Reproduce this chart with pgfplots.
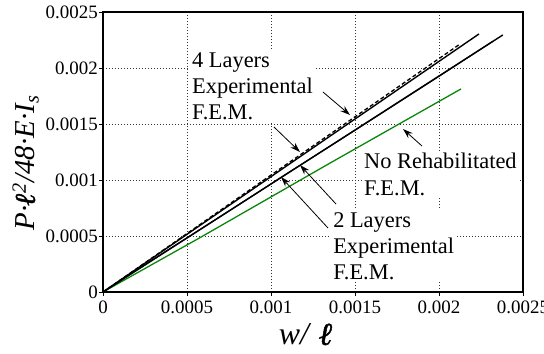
\documentclass[border=0pt]{standalone}
\usepackage{fontspec}
\setmainfont{Liberation Serif}
\newfontfamily\ellfont[FakeBold=1.5]{Liberation Serif}
\usepackage{pgfplots}
\pgfplotsset{compat=1.18}
\usetikzlibrary{arrows.meta}
\definecolor{fgreen}{RGB}{10,135,10}
\newcommand{\ellb}{{\ellfont\bfseries\itshape ℓ}}
\begin{document}
\begin{tikzpicture}
\begin{axis}[
  at={(0,0)}, anchor=south west,
  scale only axis, width=420bp, height=280bp,
  xmin=0, xmax=0.0025, ymin=0, ymax=0.0025,
  xtick={0,0.0005,0.001,0.0015,0.002,0.0025},
  ytick={0,0.0005,0.001,0.0015,0.002,0.0025},
  scaled ticks=false,
  /pgf/number format/fixed,
  /pgf/number format/precision=4,
  /pgf/number format/assume math mode=true,
  ticklabel style={font=\fontsize{19}{21}\selectfont},
  yticklabel style={inner sep=1bp},
  xticklabel style={inner sep=5bp},
  tick pos=left,
  tick align=outside,
  major tick length=4bp,
  every tick/.style={black, line width=0.8bp},
  grid=major,
  major grid style={black!80, line width=0.6bp, dash pattern=on 1bp off 2bp},
  axis line style={line width=1.6bp},
  xlabel={\fontsize{32}{34}\selectfont\textit{w/} \ellb},
  xlabel style={at={(axis description cs:0.483,-0.189)}, anchor=base},
  ylabel={\fontsize{29}{31}\selectfont\textit{P·\ellb\textsuperscript{2}/48·E·I\textsubscript{s}}},
  ylabel style={at={(axis description cs:-0.162,0.461)}, anchor=base},
]
% No rehabilitated (F.E.M.)
\addplot[fgreen, line width=1.3bp] coordinates {(0,0) (0.000577,0.000485) (0.00135,0.001150) (0.002131,0.001813)};
% 2 Layers F.E.M.
\addplot[black, line width=1.4bp] coordinates {(0,0) (0.0012,0.001157) (0.00238,0.002295)};
% 2 Layers experimental
\addplot[black, line width=1.2bp] coordinates {(0,0) (0.0002,0.000197) (0.0005,0.000484) (0.0008,0.000772) (0.0011,0.001062) (0.0014,0.001348) (0.0017,0.001637) (0.002,0.001926) (0.00232,0.002238)};
% 4 Layers F.E.M.
\addplot[black, line width=1.4bp] coordinates {(0,0) (0.0011,0.001133) (0.002238,0.002304)};
% 4 Layers experimental
\addplot[black, line width=1.3bp, dash pattern=on 4bp off 2.5bp] coordinates {(0,0) (0.0005,0.000522) (0.001,0.001044) (0.0015,0.001564) (0.002125,0.002214)};

% labels
\node[fill=white, inner sep=2bp, align=left, anchor=north west, font=\fontsize{22.5}{26.5}\selectfont] at (rel axis cs:0.207,0.864) {4 Layers\\Experimental\\F.E.M.};
\node[fill=white, inner sep=2bp, inner xsep=1bp, align=left, anchor=north west, font=\fontsize{22.5}{26.5}\selectfont] at (rel axis cs:0.619,0.504) {No Rehabilitated\\F.E.M.};
\node[fill=white, inner sep=2bp, align=left, anchor=north west, font=\fontsize{22.5}{26.5}\selectfont] at (rel axis cs:0.543,0.293) {2 Layers\\Experimental\\F.E.M.};

% arrows
\draw[-{Stealth[length=10bp,width=6.5bp]}, line width=0.8bp] (rel axis cs:0.5238,0.7143) -- (rel axis cs:0.5881,0.6321);
\draw[-{Stealth[length=10bp,width=6.5bp]}, line width=0.8bp] (rel axis cs:0.4071,0.5893) -- (rel axis cs:0.4690,0.5);
\draw[-{Stealth[length=10bp,width=6.5bp]}, line width=0.8bp] (rel axis cs:0.7595,0.5214) -- (rel axis cs:0.7143,0.5821);
\draw[-{Stealth[length=10bp,width=6.5bp]}, line width=0.8bp] (rel axis cs:0.5548,0.3143) -- (rel axis cs:0.4690,0.4536);
\draw[-{Stealth[length=10bp,width=6.5bp]}, line width=0.8bp] (rel axis cs:0.5357,0.2286) -- (rel axis cs:0.4238,0.4107);
\end{axis}
\pgfresetboundingbox
\path[use as bounding box] (-103bp,-62bp) rectangle (441bp,292bp);
\end{tikzpicture}
\end{document}
